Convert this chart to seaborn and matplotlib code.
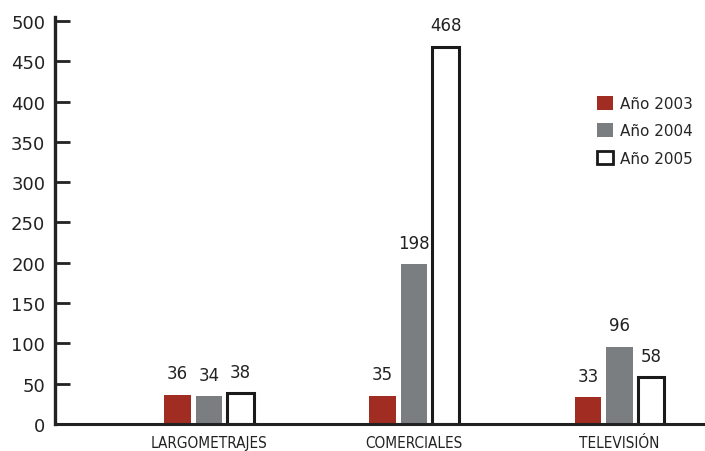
import matplotlib
matplotlib.use("Agg")
import matplotlib.pyplot as plt
import seaborn as sns
import pandas as pd
from matplotlib.patches import Patch

categories = ["LARGOMETRAJES", "COMERCIALES", "TELEVISIÓN"]
years = ["Año 2003", "Año 2004", "Año 2005"]
v2003 = [36, 35, 33]
v2004 = [34, 198, 96]
v2005 = [38, 468, 58]
yticks = [0, 50, 100, 150, 200, 250, 300, 350, 400, 450, 500]

colors = {"Año 2003": "#a02c22", "Año 2004": "#7b7e80", "Año 2005": "#ffffff"}

rows = []
for y, vals in zip(years, [v2003, v2004, v2005]):
    for c, v in zip(categories, vals):
        rows.append({"cat": c, "year": y, "val": v})
df = pd.DataFrame(rows)

sns.set_style("white")
plt.rcParams["font.family"] = ["DejaVu Sans"]

fig = plt.figure(figsize=(7.05, 4.52), dpi=100)
ax = fig.add_axes([0.078, 0.06, 0.92, 0.9])

sns.barplot(data=df, x="cat", y="val", hue="year", order=categories,
            hue_order=years, palette=colors, width=0.46, gap=0.16,
            legend=False, ax=ax, saturation=1)

for p in ax.patches:
    fc = p.get_facecolor()
    if fc[0] > 0.95 and fc[1] > 0.95 and fc[2] > 0.95:
        p.set_edgecolor("#1a1a1a")
        p.set_linewidth(2.2)
    else:
        p.set_edgecolor("none")

for cont in ax.containers:
    ax.bar_label(cont, padding=9, fontsize=12, color="#222222")

ax.set_xlim(-0.75, 2.41)
ax.set_ylim(0, 505)
ax.set_yticks(yticks)
ax.set_yticklabels([str(t) for t in yticks], fontsize=13, color="#222222")
ax.tick_params(axis="y", left=True, direction="in", length=11, width=2, color="#222222", pad=7)
ax.tick_params(axis="x", bottom=False, length=0, pad=8)
ax.set_xticks(range(len(categories)))
ax.set_xticklabels(categories, fontsize=11, fontstretch="condensed", color="#222222")
ax.set_xlabel("")
ax.set_ylabel("")

for s in ["top", "right"]:
    ax.spines[s].set_visible(False)
ax.spines["left"].set_linewidth(2.4)
ax.spines["bottom"].set_linewidth(2.2)
ax.spines["left"].set_color("#222222")
ax.spines["bottom"].set_color("#222222")

handles = [Patch(facecolor=colors[y], edgecolor=("#1a1a1a" if y == "Año 2005" else "none"),
                 linewidth=(2.0 if y == "Año 2005" else 0)) for y in years]
ax.legend(handles, years, loc="upper left", bbox_to_anchor=(0.815, 0.84), frameon=False,
          fontsize=11, handlelength=1.0, handleheight=1.0, labelspacing=0.8, handletextpad=0.5)

fig.savefig("out.png", dpi=100)
